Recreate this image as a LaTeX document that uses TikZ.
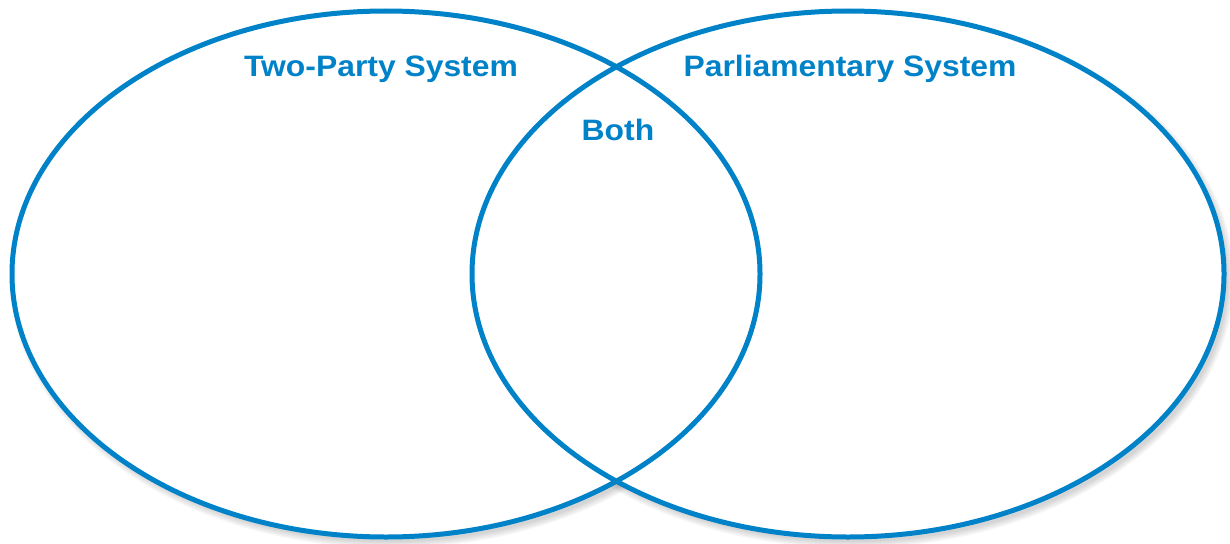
\documentclass[tikz,border=0pt]{standalone}
\usepackage{fontspec}
\newfontfamily\labelfont{Liberation Sans Bold}[FakeStretch=1.08]
\definecolor{vennblue}{RGB}{0,130,200}
\tikzset{
  setlabel/.style={font=\labelfont\fontsize{29.5}{30}\selectfont, text=vennblue, anchor=base, inner sep=0pt},
  setline/.style={draw=vennblue, line width=5pt}
}

\begin{document}
\begin{tikzpicture}[x=1pt,y=-1pt]
\useasboundingbox (0,0) rectangle (1230,543);
%
\foreach \k in {0,1.5,...,6} {
    \fill[black,opacity=0.035] (390,279) ellipse [x radius=374+\k, y radius=263+\k];
    \fill[black,opacity=0.035] (852,279) ellipse [x radius=376+\k, y radius=263+\k];
}
%
\fill[white] (386,274) ellipse [x radius=374, y radius=263];
\fill[white] (848,274) ellipse [x radius=376, y radius=263];
\draw[setline] (386,274) ellipse [x radius=374, y radius=263];
\draw[setline] (848,274) ellipse [x radius=376, y radius=263];
%
\node[setlabel] (twoparty) at (381,76) {Two-Party System};
\node[setlabel] (parliament) at (850,76) {Parliamentary System};
\node[setlabel] (both) at (618,140) {Both};
\end{tikzpicture}
\end{document}
